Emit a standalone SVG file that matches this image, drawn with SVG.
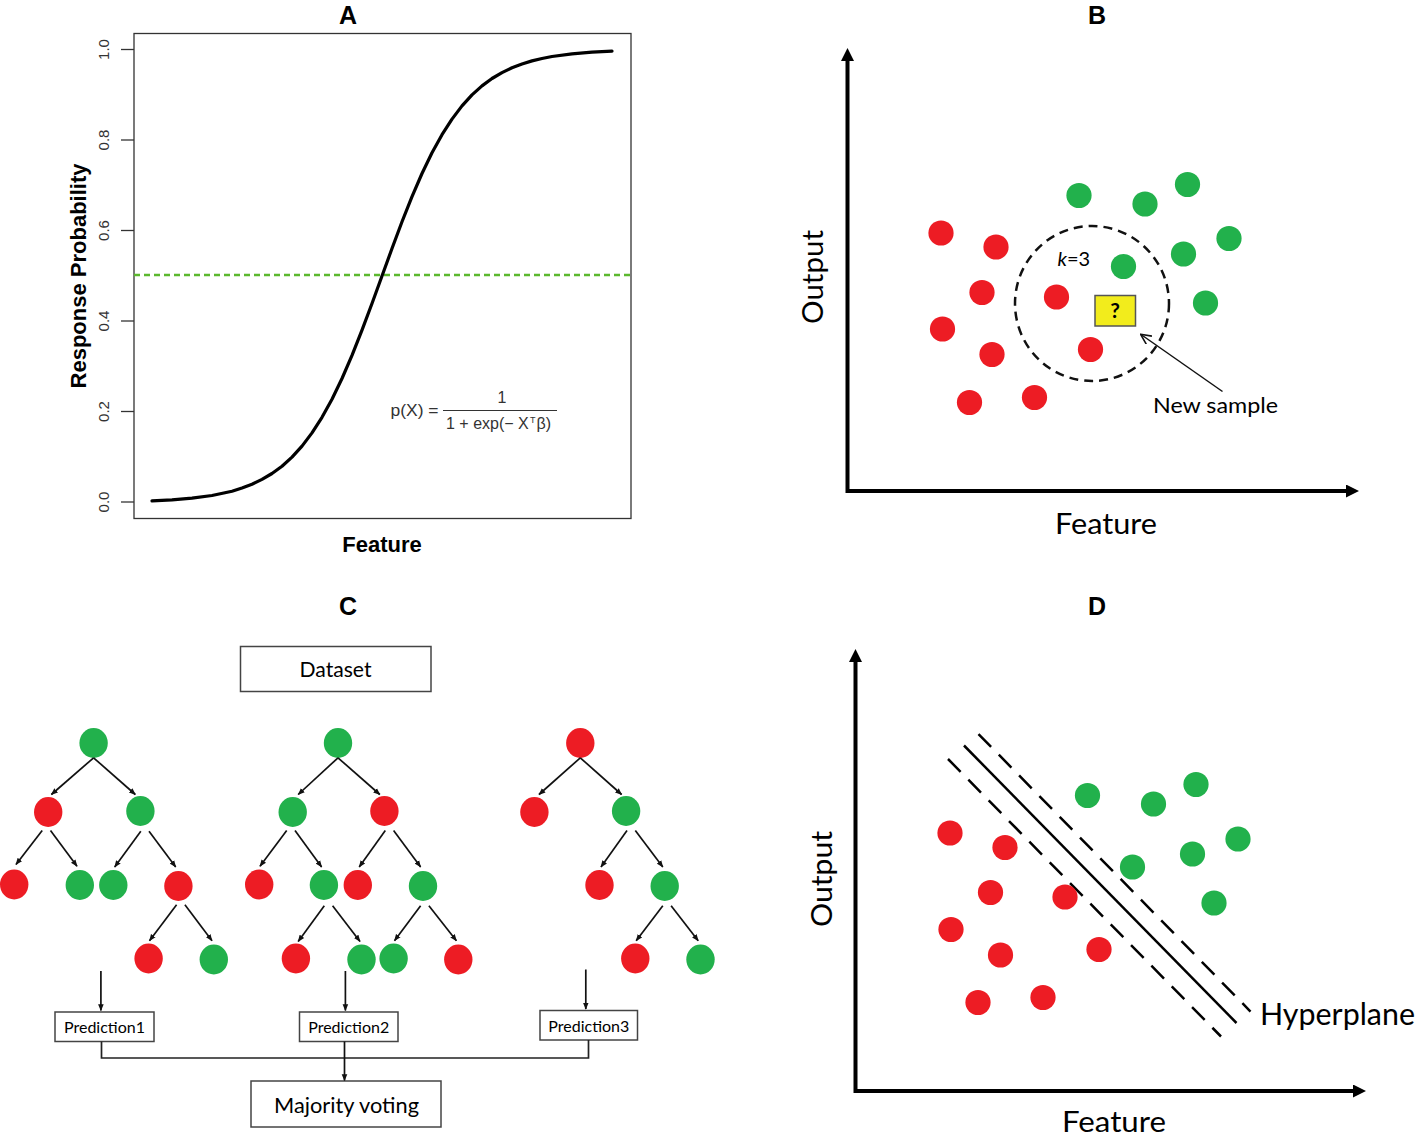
<svg xmlns="http://www.w3.org/2000/svg" width="1417" height="1136" viewBox="0 0 1417 1136">
<defs>
<style>
.ttl{font-family:"Liberation Sans",Arial,sans-serif;font-weight:bold;font-size:25px;fill:#000;text-anchor:middle}
.tick{font-family:"Liberation Sans",Arial,sans-serif;font-size:15px;fill:#333;text-anchor:middle}
.fm{font-family:"Liberation Sans",Arial,sans-serif;font-size:16px;fill:#333}
.cal{font-family:Lato,"Open Sans",sans-serif;fill:#000}
.red{fill:#ED1C24}
.grn{fill:#22B14C}
.box{fill:#fff;stroke:#444;stroke-width:1.5}
.arr{stroke:#111;stroke-width:1.7;fill:none;marker-end:url(#ah)}
.axis{stroke:#000;stroke-width:4;fill:none;marker-start:url(#axh);marker-end:url(#axh)}
</style>
<marker id="ah" viewBox="0 0 10 10" refX="9" refY="5" markerWidth="7" markerHeight="7" markerUnits="userSpaceOnUse" orient="auto"><path d="M0,1 L10,5 L0,9 z" fill="#111"/></marker>
<marker id="axh" viewBox="0 0 10 10" refX="0" refY="5" markerWidth="13" markerHeight="13" markerUnits="userSpaceOnUse" orient="auto-start-reverse"><path d="M0,0 L10,5 L0,10 z" fill="#000"/></marker>
<marker id="vh" viewBox="0 0 10 10" refX="9" refY="5" markerWidth="11" markerHeight="11" markerUnits="userSpaceOnUse" orient="auto"><path d="M0,0.5 L9.5,5 L0,9.5" fill="none" stroke="#111" stroke-width="1.4"/></marker>
</defs>
<rect width="1417" height="1136" fill="#fff"/>

<!-- Panel A -->
<g id="panelA">
<text class="ttl" x="348" y="24">A</text>
<rect x="134" y="33.5" width="497" height="485" fill="none" stroke="#333" stroke-width="1.3"/>
<g stroke="#333" stroke-width="1.3">
<line x1="121" y1="49.5" x2="134" y2="49.5"/>
<line x1="121" y1="140" x2="134" y2="140"/>
<line x1="121" y1="230.5" x2="134" y2="230.5"/>
<line x1="121" y1="321" x2="134" y2="321"/>
<line x1="121" y1="411.5" x2="134" y2="411.5"/>
<line x1="121" y1="502" x2="134" y2="502"/>
</g>
<text class="tick" transform="translate(109,49.5) rotate(-90)">1.0</text>
<text class="tick" transform="translate(109,140) rotate(-90)">0.8</text>
<text class="tick" transform="translate(109,230.5) rotate(-90)">0.6</text>
<text class="tick" transform="translate(109,321) rotate(-90)">0.4</text>
<text class="tick" transform="translate(109,411.5) rotate(-90)">0.2</text>
<text class="tick" transform="translate(109,502) rotate(-90)">0.0</text>
<text transform="translate(86,276) rotate(-90)" font-family="Liberation Sans, Arial, sans-serif" font-weight="bold" font-size="22" text-anchor="middle">Response Probability</text>
<text x="382" y="552" font-family="Liberation Sans, Arial, sans-serif" font-weight="bold" font-size="22" text-anchor="middle">Feature</text>
<line x1="134" y1="275" x2="631" y2="275" stroke="#5CB82E" stroke-width="2.5" stroke-dasharray="6 4"/>
<polyline fill="none" stroke="#000" stroke-width="3.2" stroke-linejoin="round" stroke-linecap="round" points="152,500.8 172,499.8 192,498.1 212,495.5 232,491.2 242,488 252,484.2 262,479.4 272,473.5 282,466.2 292,457.1 302,446.1 312,432.9 322,417.3 332,399.2 342,378.5 352,355.4 362,330.2 372,303.5 382,276 392,248.5 402,221.8 412,196.6 422,173.5 432,152.8 442,134.7 452,119.1 462,105.9 472,94.9 482,85.9 492,78.5 502,72.6 512,67.8 522,64 532,60.9 542,58.5 552,56.5 572,53.9 592,52.2 612,51.2"/>
<text class="fm" x="390.5" y="416" textLength="48" lengthAdjust="spacingAndGlyphs">p(X) =</text>
<text class="fm" x="502" y="403" text-anchor="middle">1</text>
<line x1="443" y1="410.5" x2="557" y2="410.5" stroke="#333" stroke-width="1"/>
<text class="fm" y="429"><tspan x="446">1 + exp(− X</tspan><tspan x="530" dy="-6" font-size="9">T</tspan><tspan x="536.5" dy="6">β)</tspan></text>
</g>

<!-- Panel B -->
<g id="panelB">
<text class="ttl" x="1097" y="24">B</text>
<path class="axis" d="M847.5,61 V491 H1346"/>
<text class="cal" transform="translate(823,277) rotate(-90)" font-size="28" text-anchor="middle" textLength="94" lengthAdjust="spacingAndGlyphs">Output</text>
<text class="cal" x="1055" y="534" font-size="28" textLength="102" lengthAdjust="spacingAndGlyphs">Feature</text>
<g id="b-red">
<circle class="red" cx="941" cy="233" r="12.6"/>
<circle class="red" cx="996" cy="247" r="12.6"/>
<circle class="red" cx="982" cy="292.5" r="12.6"/>
<circle class="red" cx="942.5" cy="329" r="12.6"/>
<circle class="red" cx="992" cy="354.5" r="12.6"/>
<circle class="red" cx="969.5" cy="402.5" r="12.6"/>
<circle class="red" cx="1034.5" cy="397.5" r="12.6"/>
<circle class="red" cx="1056.5" cy="297" r="12.6"/>
<circle class="red" cx="1090.5" cy="349.5" r="12.6"/>
</g>
<g id="b-green">
<circle class="grn" cx="1079" cy="195.5" r="12.6"/>
<circle class="grn" cx="1145" cy="204" r="12.6"/>
<circle class="grn" cx="1187.5" cy="184.5" r="12.6"/>
<circle class="grn" cx="1229" cy="238.5" r="12.6"/>
<circle class="grn" cx="1183.5" cy="254" r="12.6"/>
<circle class="grn" cx="1123.5" cy="266.5" r="12.6"/>
<circle class="grn" cx="1205.5" cy="303" r="12.6"/>
</g>
<ellipse cx="1092" cy="303.5" rx="77" ry="77.5" fill="none" stroke="#111" stroke-width="2.5" stroke-dasharray="9 6"/>
<text class="cal" x="1057.5" y="266" font-size="20"><tspan font-style="italic">k</tspan>=3</text>
<g id="new-sample">
<rect x="1095" y="295.5" width="40.5" height="30.5" fill="#F2EC1C" stroke="#555" stroke-width="1.5"/>
<text class="cal" x="1115.2" y="318" font-size="21" font-weight="bold" text-anchor="middle">?</text>
</g>
<line x1="1222.5" y1="391.5" x2="1141" y2="334.5" stroke="#111" stroke-width="1.5" marker-end="url(#vh)"/>
<text class="cal" x="1153" y="413" font-size="22" textLength="125" lengthAdjust="spacingAndGlyphs">New sample</text>
</g>

<!-- Panel C -->
<g id="panelC">
<text class="ttl" x="348" y="615">C</text>
<g id="dataset"><rect class="box" x="240.5" y="646.5" width="190.5" height="45"/><text class="cal" x="335.5" y="677" font-size="21" text-anchor="middle" textLength="72" lengthAdjust="spacingAndGlyphs">Dataset</text></g>

<g id="tree1">
<g id="t1-n0"><ellipse class="grn" cx="93.6" cy="743" rx="14.2" ry="15"/></g>
<g id="t1-n1"><ellipse class="red" cx="48.2" cy="812" rx="14.2" ry="15"/></g>
<g id="t1-n2"><ellipse class="grn" cx="140.4" cy="811" rx="14.2" ry="15"/></g>
<g id="t1-n3"><ellipse class="red" cx="14.2" cy="884.5" rx="14.2" ry="15"/></g>
<g id="t1-n4"><ellipse class="grn" cx="79.8" cy="885" rx="14.2" ry="15"/></g>
<g id="t1-n5"><ellipse class="grn" cx="113.3" cy="885" rx="14.2" ry="15"/></g>
<g id="t1-n6"><ellipse class="red" cx="178.4" cy="886" rx="14.2" ry="15"/></g>
<g id="t1-n7"><ellipse class="red" cx="148.6" cy="958.5" rx="14.2" ry="15"/></g>
<g id="t1-n8"><ellipse class="grn" cx="213.8" cy="959.5" rx="14.2" ry="15"/></g>
</g>
<g id="tree2">
<g id="t2-n0"><ellipse class="grn" cx="338" cy="743" rx="14.2" ry="15"/></g>
<g id="t2-n1"><ellipse class="grn" cx="292.7" cy="812" rx="14.2" ry="15"/></g>
<g id="t2-n2"><ellipse class="red" cx="384.4" cy="811" rx="14.2" ry="15"/></g>
<g id="t2-n3"><ellipse class="red" cx="259.2" cy="884.5" rx="14.2" ry="15"/></g>
<g id="t2-n4"><ellipse class="grn" cx="323.9" cy="885" rx="14.2" ry="15"/></g>
<g id="t2-n5"><ellipse class="red" cx="357.8" cy="885" rx="14.2" ry="15"/></g>
<g id="t2-n6"><ellipse class="grn" cx="423" cy="886" rx="14.2" ry="15"/></g>
<g id="t2-n7"><ellipse class="red" cx="295.9" cy="958.5" rx="14.2" ry="15"/></g>
<g id="t2-n8"><ellipse class="grn" cx="361.5" cy="959.5" rx="14.2" ry="15"/></g>
<g id="t2-n9"><ellipse class="grn" cx="393.6" cy="958.5" rx="14.2" ry="15"/></g>
<g id="t2-n10"><ellipse class="red" cx="458.3" cy="959.5" rx="14.2" ry="15"/></g>
</g>
<g id="tree3">
<g id="t3-n0"><ellipse class="red" cx="580.3" cy="743" rx="14.2" ry="15"/></g>
<g id="t3-n1"><ellipse class="red" cx="534.4" cy="812" rx="14.2" ry="15"/></g>
<g id="t3-n2"><ellipse class="grn" cx="626.1" cy="811" rx="14.2" ry="15"/></g>
<g id="t3-n3"><ellipse class="red" cx="599.5" cy="885" rx="14.2" ry="15"/></g>
<g id="t3-n4"><ellipse class="grn" cx="664.7" cy="886" rx="14.2" ry="15"/></g>
<g id="t3-n5"><ellipse class="red" cx="635.3" cy="958.5" rx="14.2" ry="15"/></g>
<g id="t3-n6"><ellipse class="grn" cx="700.5" cy="959.5" rx="14.2" ry="15"/></g>
</g>

<g id="pred1"><rect class="box" x="55" y="1012" width="99" height="29.5"/><text class="cal" x="104.5" y="1033" font-size="16" text-anchor="middle" textLength="81" lengthAdjust="spacingAndGlyphs">Prediction1</text></g>
<g id="pred2"><rect class="box" x="299.5" y="1012" width="98.5" height="29.5"/><text class="cal" x="348.7" y="1033" font-size="16" text-anchor="middle" textLength="81" lengthAdjust="spacingAndGlyphs">Prediction2</text></g>
<g id="pred3"><rect class="box" x="540" y="1010.5" width="97.5" height="29.5"/><text class="cal" x="588.8" y="1031.5" font-size="16" text-anchor="middle" textLength="81" lengthAdjust="spacingAndGlyphs">Prediction3</text></g>
<g id="majority"><rect class="box" x="251" y="1081" width="190" height="46"/><text class="cal" x="346.5" y="1112.5" font-size="22" text-anchor="middle" textLength="145" lengthAdjust="spacingAndGlyphs">Majority voting</text></g>

<g id="connectors">
<line class="arr" x1="93.6" y1="757.8" x2="51.4" y2="794.5"/>
<line class="arr" x1="93.6" y1="757.8" x2="135.3" y2="794.5"/>
<line class="arr" x1="42.2" y1="830.6" x2="16" y2="864.5"/>
<line class="arr" x1="50.5" y1="830.6" x2="77" y2="866.2"/>
<line class="arr" x1="140.8" y1="831.3" x2="114.7" y2="866.9"/>
<line class="arr" x1="149" y1="831.3" x2="175.7" y2="866.9"/>
<line class="arr" x1="176.6" y1="904.7" x2="149.5" y2="940.7"/>
<line class="arr" x1="184.9" y1="904.7" x2="212" y2="940.7"/>
<line class="arr" x1="338" y1="757.8" x2="298.2" y2="794.5"/>
<line class="arr" x1="338" y1="757.8" x2="379.8" y2="794.5"/>
<line class="arr" x1="286.7" y1="830.6" x2="260" y2="866.2"/>
<line class="arr" x1="295" y1="830.6" x2="321.6" y2="866.9"/>
<line class="arr" x1="385.3" y1="830.6" x2="359.2" y2="866.9"/>
<line class="arr" x1="393.6" y1="830.6" x2="420.6" y2="866.9"/>
<line class="arr" x1="324.3" y1="905.7" x2="298.2" y2="941.4"/>
<line class="arr" x1="332.6" y1="905.7" x2="360" y2="941.4"/>
<line class="arr" x1="420.6" y1="905.7" x2="394.5" y2="940.7"/>
<line class="arr" x1="428.9" y1="905.7" x2="456.4" y2="940.7"/>
<line class="arr" x1="580.3" y1="757.8" x2="539" y2="794.5"/>
<line class="arr" x1="580.3" y1="757.8" x2="621.6" y2="794.5"/>
<line class="arr" x1="627" y1="830.6" x2="601" y2="866.9"/>
<line class="arr" x1="635.3" y1="830.6" x2="662.8" y2="866.9"/>
<line class="arr" x1="662.8" y1="905.7" x2="636.2" y2="940.7"/>
<line class="arr" x1="671.1" y1="905.7" x2="698.2" y2="940.7"/>
<line class="arr" x1="100.9" y1="971" x2="100.9" y2="1010.5"/>
<line class="arr" x1="345.4" y1="971" x2="345.4" y2="1010.5"/>
<line class="arr" x1="585.8" y1="969.5" x2="585.8" y2="1009"/>
<path d="M101.5,1041.5 V1058 H588.5 V1040" fill="none" stroke="#222" stroke-width="1.7"/>
<line class="arr" x1="344.5" y1="1041.5" x2="344.5" y2="1080.5"/>
</g>
</g>

<!-- Panel D -->
<g id="panelD">
<text class="ttl" x="1097" y="615">D</text>
<path class="axis" d="M855.5,662 V1091 H1353"/>
<text class="cal" transform="translate(832,879) rotate(-90)" font-size="28" text-anchor="middle" textLength="96" lengthAdjust="spacingAndGlyphs">Output</text>
<text class="cal" x="1062" y="1132" font-size="28" textLength="104" lengthAdjust="spacingAndGlyphs">Feature</text>
<text class="cal" x="1260" y="1025" font-size="30" textLength="155" lengthAdjust="spacingAndGlyphs">Hyperplane</text>
<g id="hyperplane" stroke="#000" stroke-width="2.5">
<line x1="978.5" y1="734" x2="1250.5" y2="1011.5" stroke-dasharray="18 11"/>
<line x1="964" y1="745.5" x2="1236.5" y2="1023"/>
<line x1="948" y1="759" x2="1221" y2="1036.5" stroke-dasharray="18 11"/>
</g>
<g id="d-red">
<circle class="red" cx="950" cy="833" r="12.6"/>
<circle class="red" cx="1005" cy="847.5" r="12.6"/>
<circle class="red" cx="990.5" cy="892.5" r="12.6"/>
<circle class="red" cx="951" cy="929.5" r="12.6"/>
<circle class="red" cx="1000.5" cy="955" r="12.6"/>
<circle class="red" cx="978" cy="1002.5" r="12.6"/>
<circle class="red" cx="1043" cy="997.5" r="12.6"/>
<circle class="red" cx="1065" cy="897" r="12.6"/>
<circle class="red" cx="1099" cy="949.5" r="12.6"/>
</g>
<g id="d-green">
<circle class="grn" cx="1087.5" cy="795.5" r="12.6"/>
<circle class="grn" cx="1153.5" cy="804" r="12.6"/>
<circle class="grn" cx="1196" cy="784.5" r="12.6"/>
<circle class="grn" cx="1238" cy="839" r="12.6"/>
<circle class="grn" cx="1192.5" cy="854" r="12.6"/>
<circle class="grn" cx="1132.5" cy="867" r="12.6"/>
<circle class="grn" cx="1214" cy="903" r="12.6"/>
</g>
</g>
</svg>
